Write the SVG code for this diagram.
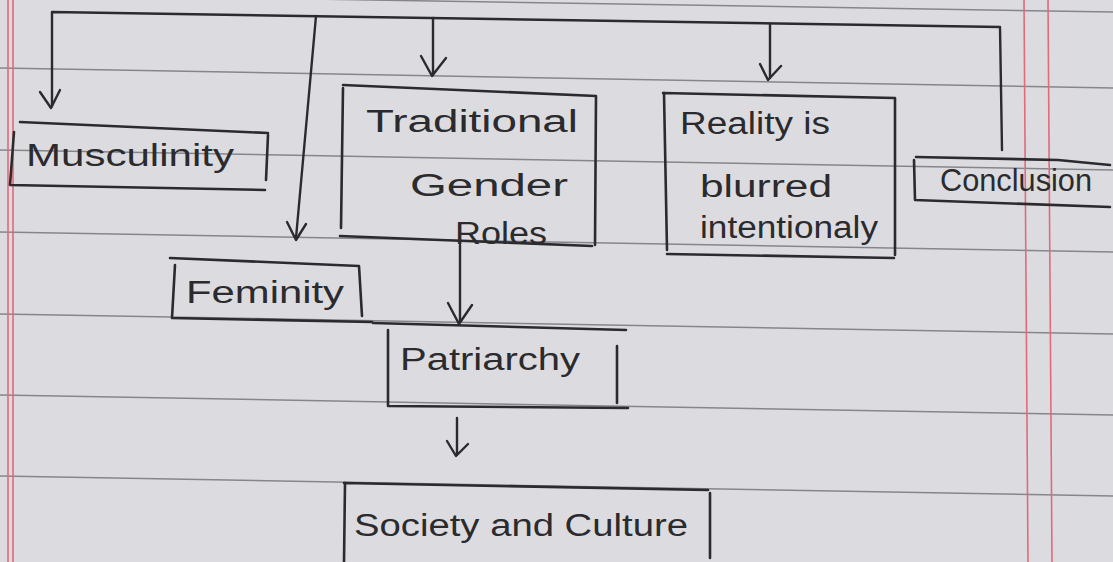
<svg xmlns="http://www.w3.org/2000/svg" width="1113" height="562" viewBox="0 0 1113 562">
<defs>
<style>
.paper{fill:#dcdce0}
.rule{stroke:#85858c;stroke-width:1.5;fill:none}
.margin{stroke:#e06a7a;stroke-width:1.6;fill:none}
.box{stroke:#2b2b2e;stroke-width:2.6;fill:none;stroke-linecap:round;stroke-linejoin:round}
.conn{stroke:#2b2b2e;stroke-width:2.4;fill:none;stroke-linecap:round;stroke-linejoin:round}
.lbl{font-family:"Liberation Sans",Arial,sans-serif;font-size:31px;fill:#2b2b2e}
</style>
</defs>
<rect class="paper" x="0" y="0" width="1113" height="562"/>
<g id="paper-lines">
<path class="rule" d="M0 68 L1113 88"/>
<path class="rule" d="M0 150 L1113 170"/>
<path class="rule" d="M0 232 L1113 252"/>
<path class="rule" d="M0 314 L1113 334"/>
<path class="rule" d="M0 395 L1113 415"/>
<path class="rule" d="M0 476 L1113 496"/>
<path class="rule" d="M0 -6 L1113 12"/>
<path class="margin" d="M8 0 L8 562 M13 0 L13 562"/>
<path class="margin" d="M1024 0 L1028 562 M1048 0 L1052 562"/>
</g>
<g id="connectors">
<path class="conn" d="M52 106 L52 12 L1000 27 L1002 150"/>
<path class="conn" d="M40 92 L51 108 L60 90"/>
<path class="conn" d="M316 16 L296 238"/>
<path class="conn" d="M287 222 L296 240 L306 224"/>
<path class="conn" d="M433 18 L433 75 M421 56 L432 76 L446 58"/>
<path class="conn" d="M770 24 L770 78 M760 64 L768 80 L781 66"/>
<path class="conn" d="M460 245 L460 322 M448 303 L459 324 L472 305"/>
<path class="conn" d="M457 418 L457 455 M447 441 L456 456 L468 444"/>
</g>
<g id="node-musculinity">
<path class="box" d="M20 122 L268 133 M268 135 L266 180 M14 132 L10 185 L265 190"/>
<text class="lbl" x="26" y="166" textLength="208" lengthAdjust="spacingAndGlyphs">Musculinity</text>
</g>
<g id="node-traditional">
<path class="box" d="M343 85 L596 96 L595 245 M343 88 L341 228 M340 236 L592 246"/>
<text class="lbl" x="366" y="132" textLength="212" lengthAdjust="spacingAndGlyphs">Traditional</text>
<text class="lbl" x="410" y="196" textLength="158" lengthAdjust="spacingAndGlyphs">Gender</text>
<text class="lbl" x="455" y="244" textLength="92" lengthAdjust="spacingAndGlyphs">Roles</text>
</g>
<g id="node-reality">
<path class="box" d="M663 93 L895 98 L895 255 M664 93 L667 250 M667 254 L894 258"/>
<text class="lbl" x="680" y="134" textLength="150" lengthAdjust="spacingAndGlyphs">Reality is</text>
<text class="lbl" x="700" y="197" textLength="132" lengthAdjust="spacingAndGlyphs">blurred</text>
<text class="lbl" x="700" y="238" textLength="178" lengthAdjust="spacingAndGlyphs">intentionaly</text>
</g>
<g id="node-conclusion">
<path class="box" d="M916 157 L1058 160 L1110 165 M914 160 L915 200 L1110 207"/>
<text class="lbl" x="940" y="191" textLength="152" lengthAdjust="spacingAndGlyphs">Conclusion</text>
</g>
<g id="node-feminity">
<path class="box" d="M170 258 L359 266 L362 316 M175 265 L172 318 L372 322"/>
<text class="lbl" x="186" y="303" textLength="158" lengthAdjust="spacingAndGlyphs">Feminity</text>
</g>
<g id="node-patriarchy">
<path class="box" d="M373 323 L626 330 M617 346 L617 403 M388 330 L388 406 L628 408"/>
<text class="lbl" x="400" y="370" textLength="180" lengthAdjust="spacingAndGlyphs">Patriarchy</text>
</g>
<g id="node-society">
<path class="box" d="M344 483 L708 490 M710 493 L710 558 M345 483 L344 562"/>
<text class="lbl" x="354" y="536" textLength="334" lengthAdjust="spacingAndGlyphs">Society and Culture</text>
</g>
</svg>
